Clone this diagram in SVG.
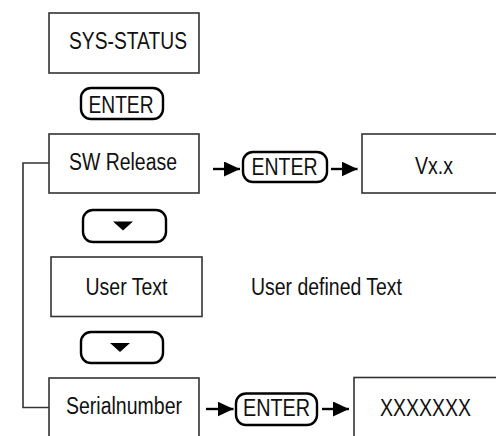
<svg xmlns="http://www.w3.org/2000/svg" width="496" height="436" viewBox="0 0 496 436">
  <style>
    .box { fill: #ffffff; stroke: #333333; stroke-width: 1.6; }
    .key { fill: #ffffff; stroke: #000000; stroke-width: 2.4; }
    .lbl { font-family: "Liberation Sans Narrow", "Liberation Sans", Arial, sans-serif; font-size: 23px; fill: #111111; }
    .tri { fill: #000000; }
    .wire { fill: none; stroke: #333333; stroke-width: 1.6; }
    .arrow { stroke: #000000; stroke-width: 2.4; fill: none; marker-end: url(#head); }
  </style>
  <defs>
    <marker id="head" viewBox="0 0 16 15" refX="16" refY="7.5" markerWidth="16" markerHeight="15" markerUnits="userSpaceOnUse" orient="auto">
      <path d="M0,0 L16,7.5 L0,15 z" fill="#000000"/>
    </marker>
  </defs>

  <!-- connectors -->
  <g id="connectors">
    <path class="wire" d="M49,163 H23 V407.5 H49"/>
    <line class="arrow" x1="213" y1="169" x2="240" y2="169"/>
    <line class="arrow" x1="331" y1="169" x2="357.5" y2="169"/>
    <line class="arrow" x1="206" y1="409" x2="233.5" y2="409"/>
    <line class="arrow" x1="322" y1="409" x2="349" y2="409"/>
  </g>

  <g id="sys-status">
    <rect class="box" x="49" y="13" width="150" height="60"/>
    <text class="lbl" x="69" y="49" textLength="118" lengthAdjust="spacingAndGlyphs">SYS-STATUS</text>
  </g>

  <g id="key-enter-top">
    <rect class="key" x="81" y="88" width="82" height="31" rx="10"/>
    <text class="lbl" x="88.5" y="112.5" textLength="65" lengthAdjust="spacingAndGlyphs">ENTER</text>
  </g>

  <g id="sw-release">
    <rect class="box" x="49" y="134" width="150" height="59"/>
    <text class="lbl" x="69" y="170" textLength="108" lengthAdjust="spacingAndGlyphs">SW Release</text>
  </g>

  <g id="key-enter-sw">
    <rect class="key" x="243" y="152" width="84" height="30" rx="10"/>
    <text class="lbl" x="251.5" y="175" textLength="66" lengthAdjust="spacingAndGlyphs">ENTER</text>
  </g>

  <g id="version">
    <rect class="box" x="362" y="134" width="150" height="59"/>
    <text class="lbl" x="415" y="173.5" textLength="38" lengthAdjust="spacingAndGlyphs">Vx.x</text>
  </g>

  <g id="key-down-1">
    <rect class="key" x="83" y="210" width="83" height="32" rx="10"/>
    <path class="tri" d="M113,221.5 H133 L123,230.5 z"/>
  </g>

  <g id="user-text">
    <rect class="box" x="51" y="257" width="151" height="59.5"/>
    <text class="lbl" x="85.5" y="294.5" textLength="82" lengthAdjust="spacingAndGlyphs">User Text</text>
  </g>

  <g id="user-text-note">
    <text class="lbl" x="251" y="294.5" textLength="151" lengthAdjust="spacingAndGlyphs">User defined Text</text>
  </g>

  <g id="key-down-2">
    <rect class="key" x="81" y="332" width="82" height="31" rx="10"/>
    <path class="tri" d="M110,343 H130 L120,352 z"/>
  </g>

  <g id="serialnumber">
    <rect class="box" x="49" y="378" width="150" height="70"/>
    <text class="lbl" x="66" y="413.5" textLength="116" lengthAdjust="spacingAndGlyphs">Serialnumber</text>
  </g>

  <g id="key-enter-serial">
    <rect class="key" x="236" y="393.5" width="81" height="31.5" rx="10"/>
    <text class="lbl" x="243" y="416" textLength="67" lengthAdjust="spacingAndGlyphs">ENTER</text>
  </g>

  <g id="serial-value">
    <rect class="box" x="354" y="377.5" width="160" height="70"/>
    <text class="lbl" x="380" y="416" textLength="91" lengthAdjust="spacingAndGlyphs">XXXXXXX</text>
  </g>
</svg>
